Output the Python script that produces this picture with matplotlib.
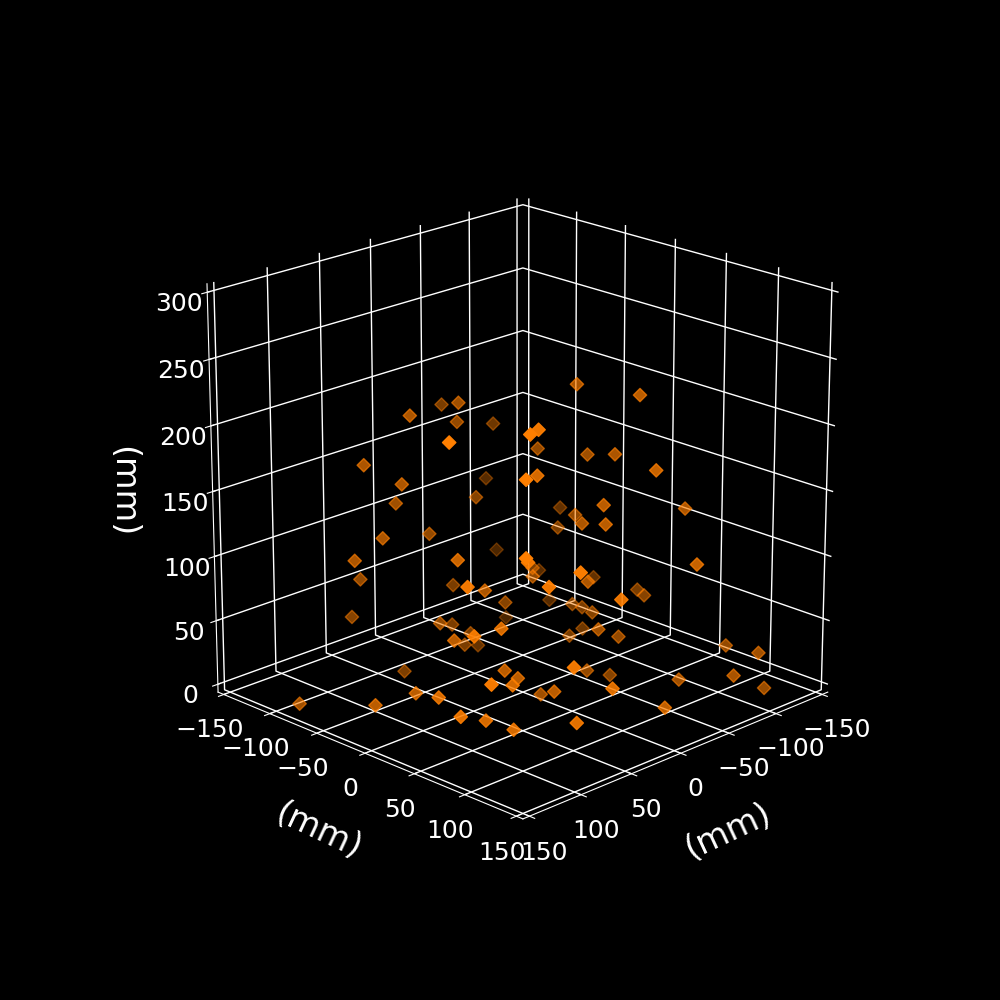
import matplotlib
matplotlib.use("Agg")
import matplotlib.pyplot as plt

ticks_xy = [-150, -100, -50, 0, 50, 100, 150]
ticks_z = [0, 50, 100, 150, 200, 250, 300]

x = [-22, 17, 59, 5, -61, 140, 91, 75, -80, 109, 66, -8, 94, 39, -88, 112, 92, 122, 82, 4, 139, 52, -4, 77, 49, 12, -80, 98, 4, 128, 92, 9, -26, 47, 72, 67, 148, 102, 120, 140, 148, 142, 148, 121, 109, -30, -42, 79, 100, -31, -39, -37, -21, 55, -97, -5, -38, -8, -3, -60, -62, 90, -40, -91, -6, -25, 93, -1, -102, 100, -90, -76, 53, -91, -54, -58, -47, -71, -14, -47, -39, -92, -89, 99, -17, -45, -46, -63, -97, 61, 51, 26, 7, 93]
y = [-106, -48, -54, -62, -92, 70, -68, -46, -119, 112, -62, -56, -46, -56, -116, -56, 28, 125, -83, -68, 86, 14, -22, -98, -35, -61, -98, 77, -50, 81, 24, -51, -73, -75, 54, 62, 118, 92, 14, 58, -77, -4, 88, 85, 100, 24, 74, 94, 107, -16, 26, 55, 110, 69, -58, 75, 15, 51, 79, -24, 100, 95, -30, -74, 4, 146, 148, 64, -28, 125, 28, 48, 148, -63, -3, 3, 24, -9, 62, 1, 58, 114, 148, 148, 48, 44, 111, 148, 147, 148, 82, 44, 147, 145]
z = [185, 210, 209, 189, 164, 240, 176, 163, 109, 216, 142, 129, 127, 113, 50, 112, 130, 166, 82, 60, 139, 92, 57, 47, 52, 33, 2, 94, 27, 98, 68, 19, 2, 2, 48, 43, 79, 57, 33, 49, 6, 25, 46, 34, 28, 230, 231, 240, 245, 171, 175, 183, 189, 194, 97, 158, 126, 137, 145, 100, 147, 146, 72, 44, 84, 127, 154, 98, 48, 139, 57, 62, 123, 23, 47, 45, 50, 21, 57, 25, 43, 37, 42, 86, 20, 7, 23, 32, 12, 59, 34, 13, 28, 42]

plt.style.use("dark_background")
plt.rcParams["axes3d.automargin"] = True
fig = plt.figure(figsize=(10, 10), dpi=100)
ax = fig.add_axes([0.125, 0.113, 0.775, 0.77], projection="3d")
ax.view_init(elev=20, azim=45)
ax.set_box_aspect((1, 1, 0.99), zoom=0.955)
ax.scatter(x, y, z, c="#ff7f00", marker="D", s=46)
ax.set_xlim(-150, 150)
ax.set_ylim(-150, 150)
ax.set_zlim(0, 300)
ax.set_xticks(ticks_xy)
ax.set_yticks(ticks_xy)
ax.set_zticks(ticks_z)
ax.tick_params(labelsize=18, colors="white", pad=5)
ax.set_xlabel("(mm)", fontsize=24, labelpad=21, rotation=25)
ax.set_ylabel("(mm)", fontsize=24, labelpad=21, rotation=-25)
ax.set_zlabel("(mm)", fontsize=24, labelpad=21, rotation=270)
for a in (ax.xaxis, ax.yaxis, ax.zaxis):
    a.set_pane_color((0, 0, 0, 0))
    a.pane.set_edgecolor("0.6")
    a._axinfo["grid"]["color"] = "white"
    a._axinfo["grid"]["linewidth"] = 1.0
fig.savefig("out.png", dpi=100)
